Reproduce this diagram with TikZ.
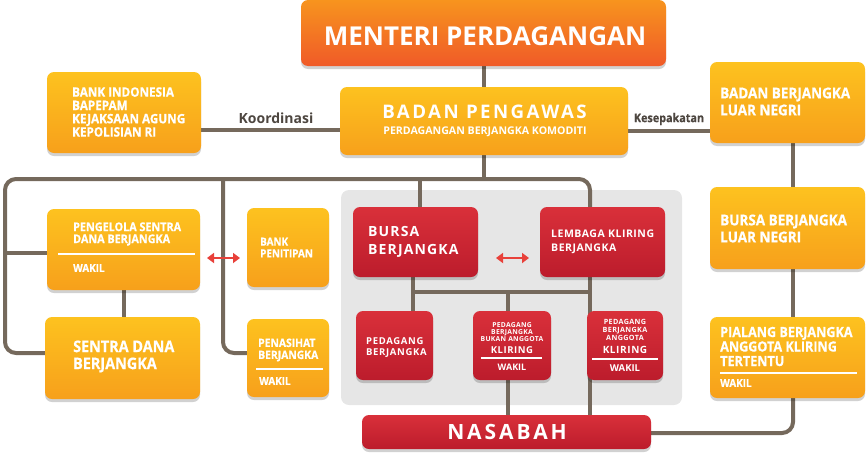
\documentclass[tikz,border=0pt]{standalone}
\usepackage{fontspec}
\setmainfont{Open Sans}
\newfontfamily\cond{Open Sans}[UprightFont=*/B, BoldFont=*/B, FakeStretch=0.9, FakeBold=0.6]
\usetikzlibrary{shadows,arrows.meta,calc}
\definecolor{lnc}{HTML}{75695C}
\definecolor{oTop}{HTML}{FDC21F}
\definecolor{oBot}{HTML}{F7A01B}
\definecolor{mTop}{HTML}{F7941E}
\definecolor{mBot}{HTML}{F05A28}
\definecolor{rTop}{HTML}{D9303A}
\definecolor{rBot}{HTML}{BC1C2C}
\definecolor{pnl}{HTML}{E6E6E6}
\definecolor{arr}{HTML}{E8413A}
\definecolor{lbl}{HTML}{4D4640}
\newcommand\fs[2]{\fontsize{#1}{#2}\selectfont}
\pgfdeclarelayer{background}
\pgfsetlayers{background,main}
\tikzset{
  shd/.style={drop shadow={shadow xshift=0pt, shadow yshift=-3pt, opacity=0.18, fill=black}},
  obox/.style={rounded corners=7pt, top color=oTop, bottom color=oBot, draw=none, inner sep=0pt, shd},
  mbox/.style={rounded corners=7pt, top color=mTop, bottom color=mBot, draw=none, inner sep=0pt, shd},
  rbox/.style={rounded corners=7pt, top color=rTop, bottom color=rBot, draw=none, inner sep=0pt, shd},
  panel/.style={rounded corners=8pt, fill=pnl, draw=none, inner sep=0pt},
  txt/.style={text=white, inner sep=0pt},
  ln/.style={draw=lnc, line width=4pt},
  rarr/.style={draw=arr, line width=2.6pt, {Triangle[width=10pt,length=7pt]}-{Triangle[width=10pt,length=7pt]}},
  wrule/.style={draw=white, line width=1.4pt},
  lab/.style={text=lbl, inner sep=0pt}
}
\begin{document}
\begin{tikzpicture}[x=1pt,y=-1pt]
\useasboundingbox (0,0) rectangle (866,461);
% boxes
\node[mbox, minimum width=365pt, minimum height=66pt] (men) at (483.5,33) {};
\node[obox, minimum width=288pt, minimum height=68pt] (bp) at (484,121) {};
\node[obox, minimum width=154pt, minimum height=81pt] (lbox) at (124,112.5) {};
\node[obox, minimum width=155pt, minimum height=81pt] (bbln) at (787.5,102.5) {};
\node[obox, minimum width=155pt, minimum height=82pt] (bbln2) at (787.5,228) {};
\node[obox, minimum width=155pt, minimum height=81pt] (pialang) at (787.5,357.5) {};
\node[obox, minimum width=153pt, minimum height=81pt] (pengelola) at (123.5,249.5) {};
\node[obox, minimum width=155pt, minimum height=82pt] (sentra) at (122.5,358) {};
\node[obox, minimum width=82pt, minimum height=79pt] (bankpen) at (288,247.5) {};
\node[obox, minimum width=82pt, minimum height=78pt] (penasihat) at (288,358) {};
\node[rbox, minimum width=125pt, minimum height=70pt] (bursa) at (415.5,242) {};
\node[rbox, minimum width=125pt, minimum height=70pt] (lembaga) at (602.5,242) {};
\node[rbox, minimum width=77pt, minimum height=69pt] (pb) at (394.5,345.5) {};
\node[rbox, minimum width=78pt, minimum height=69pt] (pbbak) at (512,345.5) {};
\node[rbox, minimum width=76pt, minimum height=69pt] (pbak) at (625,345.5) {};
\node[rbox, minimum width=289pt, minimum height=34pt] (nasabah) at (506.5,432) {};
% coordinates
\coordinate (kk) at (0,130);
\coordinate (ks) at (0,131);
\coordinate (bus) at (0,179);
\coordinate (xl) at (5,0);
\coordinate (xr) at (590,0);
\coordinate (xp) at (223,0);
\coordinate (xq) at (420,0);
\coordinate (yl) at (0,353);
\coordinate (yp) at (0,253);
\coordinate (yh) at (0,292);
\coordinate (xb) at (413,0);
\coordinate (xc) at (508,0);
\coordinate (xbb) at (793,0);
\coordinate (ynb) at (0,433);
\begin{pgfonlayer}{background}
\node[panel, minimum width=341pt, minimum height=215pt] (pan) at (511.5,297.5) {};
\draw[ln] (men.south) -- (men.south |- bp.north);
\draw[ln] (lbox.east |- kk) -- (bp.west |- kk);
\draw[ln] (bp.east |- ks) -- (bbln.west |- ks);
\draw[ln, rounded corners=11pt] (sentra.west |- yl) -| (xl |- bus) -| (xr |- lembaga.north);
\draw[ln] (bp.south) -- (bp.south |- bus);
\draw[ln, rounded corners=11pt] (xp |- bus) |- (penasihat.west |- yl);
\draw[ln] (xq |- bus) -- (xq |- bursa.north);
\draw[ln] (xl |- yp) -- (pengelola.west |- yp);
\draw[ln] (pengelola.south) -- (pengelola.south |- sentra.north);
\draw[ln] (xb |- bursa.south) -- (xb |- pb.north);
\draw[ln] (xb |- yh) -- (xr |- yh);
\draw[ln] (xr |- lembaga.south) -- (xr |- nasabah.north);
\draw[ln] (xc |- yh) -- (xc |- nasabah.north);
\draw[ln] (xbb |- bbln.south) -- (xbb |- bbln2.north);
\draw[ln] (xbb |- bbln2.south) -- (xbb |- pialang.north);
\draw[ln, rounded corners=11pt] (xbb |- pialang.south) |- (nasabah.east |- ynb);
\end{pgfonlayer}
% arrows
\coordinate (a1) at (207,258);
\coordinate (a2) at (240,258);
\coordinate (a3) at (496,258);
\coordinate (a4) at (529,258);
\draw[rarr] (a1) -- (a2);
\draw[rarr] (a3) -- (a4);
% labels
\node[lab, font=\bfseries\fs{14}{16}] (koord) at (276,118) {Koordinasi};
\node[lab, font=\cond\fs{12}{14}] (kesep) at (669,119) {Kesepakatan};
% texts
\node[txt, font=\bfseries\fs{26}{28}] (tmen) at (485,36.5) {MENTERI PERDAGANGAN};
\node[txt, font=\bfseries\fs{18.7}{20}\addfontfeatures{LetterSpace=13}] (tbp1) at (484.5,112) {BADAN PENGAWAS};
\node[txt, font=\bfseries\fs{10.6}{12}] (tbp2) at (485,131.5) {PERDAGANGAN BERJANGKA KOMODITI};
\node[txt, anchor=west, align=left, font=\cond\fs{13}{13.3}] (tl) at (72,112) {BANK INDONESIA\\BAPEPAM\\KEJAKSAAN AGUNG\\KEPOLISIAN RI};
\node[txt, anchor=west, align=left, font=\cond\fs{15}{17}] (tb1) at (720,101.5) {BADAN BERJANGKA\\LUAR NEGRI};
\node[txt, anchor=west, align=left, font=\cond\fs{15}{17}] (tb2) at (720,228.5) {BURSA BERJANGKA\\LUAR NEGRI};
\node[txt, anchor=west, align=left, font=\cond\fs{14}{14.5}] (tpi) at (720,346.5) {PIALANG BERJANGKA\\ANGGOTA KLIRING\\TERTENTU};
\draw[wrule] (720,373) -- (857,373);
\node[txt, anchor=west, font=\cond\fs{11}{12}] (tpiw) at (720,383) {WAKIL};
\node[txt, anchor=west, align=left, font=\cond\fs{12}{12}] (tpg) at (73,234) {PENGELOLA SENTRA\\DANA BERJANGKA};
\draw[wrule] (58,254) -- (195,254);
\node[txt, anchor=west, font=\cond\fs{11}{12}] (tpgw) at (73,268) {WAKIL};
\node[txt, anchor=west, align=left, font=\cond\fs{16}{17}] (tse) at (73,356.5) {SENTRA DANA\\BERJANGKA};
\node[txt, anchor=west, align=left, font=\cond\fs{11}{11.7}] (tbk) at (260,247.5) {BANK\\PENITIPAN};
\node[txt, anchor=west, align=left, font=\cond\fs{11.5}{12}] (tpn) at (258,350) {PENASIHAT\\BERJANGKA};
\draw[wrule] (256,369) -- (323,369);
\node[txt, anchor=west, font=\cond\fs{11}{12}] (tpnw) at (259,381) {WAKIL};
\node[txt, anchor=west, align=left, font=\bfseries\fs{14}{18}\addfontfeatures{LetterSpace=8}] (tbu) at (368,242) {BURSA\\BERJANGKA};
\node[txt, anchor=west, align=left, font=\bfseries\fs{10.5}{14}\addfontfeatures{LetterSpace=5}] (tle) at (551,242) {LEMBAGA KLIRING\\BERJANGKA};
\node[txt, anchor=west, align=left, font=\bfseries\fs{9.5}{11}\addfontfeatures{LetterSpace=7}] (tpb) at (366,347.5) {PEDAGANG\\BERJANGKA};
\node[txt, align=center, font=\bfseries\fs{6.8}{7}\addfontfeatures{LetterSpace=4}] (tpbb) at (512,332) {PEDAGANG\\BERJANGKA\\BUKAN ANGGOTA};
\node[txt, font=\bfseries\fs{9.5}{11}\addfontfeatures{LetterSpace=6}] (tpbbk) at (512,350) {KLIRING};
\draw[wrule] (481,358) -- (542,358);
\node[txt, font=\bfseries\fs{9}{10}] (tpbbw) at (512,367) {WAKIL};
\node[txt, align=center, font=\bfseries\fs{7.2}{8}\addfontfeatures{LetterSpace=5}] (tpa) at (625,330) {PEDAGANG\\BERJANGKA\\ANGGOTA};
\node[txt, font=\bfseries\fs{10}{11}\addfontfeatures{LetterSpace=6}] (tpak) at (625,350) {KLIRING};
\draw[wrule] (592,359) -- (658,359);
\node[txt, font=\bfseries\fs{9.5}{10}] (tpaw) at (625,368) {WAKIL};
\node[txt, font=\bfseries\fs{21}{22}\addfontfeatures{LetterSpace=14}] (tna) at (507,432) {NASABAH};
\end{tikzpicture}
\end{document}
